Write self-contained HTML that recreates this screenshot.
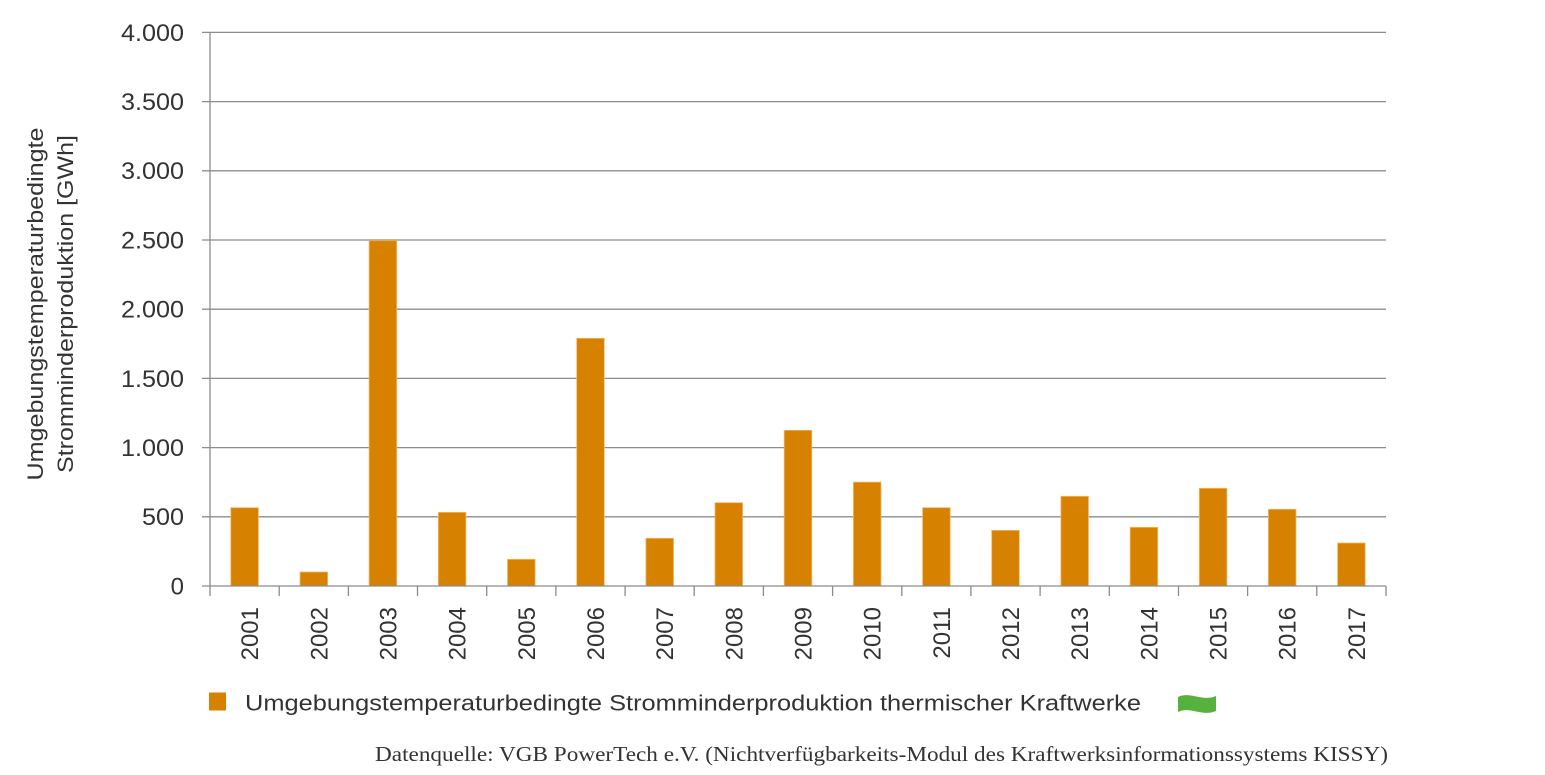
<!DOCTYPE html>
<html>
<head>
<meta charset="utf-8">
<style>
  html, body { margin: 0; padding: 0; background: #ffffff; }
  body { width: 1545px; height: 775px; overflow: hidden; }
  svg { display: block; }
  .ax { font-family: "Liberation Sans", sans-serif; fill: #333333; }
  .src { font-family: "Liberation Serif", serif; fill: #333333; }
</style>
</head>
<body>
<svg width="1545" height="775" viewBox="0 0 1545 775" xmlns="http://www.w3.org/2000/svg">
  <!-- gridlines -->
  <g stroke="#8c8c8c" stroke-width="1.3" fill="none">
    <line x1="202" y1="32.4" x2="1386" y2="32.4"/>
    <line x1="202" y1="101.6" x2="1386" y2="101.6"/>
    <line x1="202" y1="170.8" x2="1386" y2="170.8"/>
    <line x1="202" y1="240" x2="1386" y2="240"/>
    <line x1="202" y1="309.2" x2="1386" y2="309.2"/>
    <line x1="202" y1="378.4" x2="1386" y2="378.4"/>
    <line x1="202" y1="447.6" x2="1386" y2="447.6"/>
    <line x1="202" y1="516.8" x2="1386" y2="516.8"/>
  </g>

  <!-- bars -->
  <g fill="#d68100" stroke="#f2b86a" stroke-width="0.8">
    <rect x="230.8" y="507.7" width="27.6" height="78.3"/>
    <rect x="300.0" y="572.0" width="27.6" height="14.0"/>
    <rect x="369.1" y="240.7" width="27.6" height="345.3"/>
    <rect x="438.3" y="512.4" width="27.6" height="73.6"/>
    <rect x="507.5" y="559.3" width="27.6" height="26.7"/>
    <rect x="576.7" y="338.3" width="27.6" height="247.7"/>
    <rect x="645.9" y="538.3" width="27.6" height="47.7"/>
    <rect x="715.0" y="502.7" width="27.6" height="83.3"/>
    <rect x="784.2" y="430.3" width="27.6" height="155.7"/>
    <rect x="853.4" y="482.1" width="27.6" height="103.9"/>
    <rect x="922.6" y="507.7" width="27.6" height="78.3"/>
    <rect x="991.7" y="530.4" width="27.6" height="55.6"/>
    <rect x="1060.9" y="496.3" width="27.6" height="89.7"/>
    <rect x="1130.1" y="527.3" width="27.6" height="58.7"/>
    <rect x="1199.3" y="488.3" width="27.6" height="97.7"/>
    <rect x="1268.4" y="509.3" width="27.6" height="76.7"/>
    <rect x="1337.6" y="543.0" width="27.6" height="43.0"/>
  </g>

  <!-- axes -->
  <g stroke="#8c8c8c" stroke-width="1.3" fill="none">
    <line x1="210" y1="32" x2="210" y2="596"/>
    <line x1="202" y1="586" x2="1386" y2="586"/>
    <line x1="279.2" y1="586" x2="279.2" y2="596"/>
    <line x1="348.4" y1="586" x2="348.4" y2="596"/>
    <line x1="417.5" y1="586" x2="417.5" y2="596"/>
    <line x1="486.7" y1="586" x2="486.7" y2="596"/>
    <line x1="555.9" y1="586" x2="555.9" y2="596"/>
    <line x1="625.1" y1="586" x2="625.1" y2="596"/>
    <line x1="694.2" y1="586" x2="694.2" y2="596"/>
    <line x1="763.4" y1="586" x2="763.4" y2="596"/>
    <line x1="832.6" y1="586" x2="832.6" y2="596"/>
    <line x1="901.8" y1="586" x2="901.8" y2="596"/>
    <line x1="970.9" y1="586" x2="970.9" y2="596"/>
    <line x1="1040.1" y1="586" x2="1040.1" y2="596"/>
    <line x1="1109.3" y1="586" x2="1109.3" y2="596"/>
    <line x1="1178.5" y1="586" x2="1178.5" y2="596"/>
    <line x1="1247.6" y1="586" x2="1247.6" y2="596"/>
    <line x1="1316.8" y1="586" x2="1316.8" y2="596"/>
    <line x1="1386" y1="586" x2="1386" y2="596"/>
  </g>

  <!-- y tick labels -->
  <g class="ax" font-size="24" text-anchor="end">
    <text x="184" y="40.8" textLength="63" lengthAdjust="spacingAndGlyphs">4.000</text>
    <text x="184" y="110" textLength="63" lengthAdjust="spacingAndGlyphs">3.500</text>
    <text x="184" y="179.2" textLength="63" lengthAdjust="spacingAndGlyphs">3.000</text>
    <text x="184" y="248.4" textLength="63" lengthAdjust="spacingAndGlyphs">2.500</text>
    <text x="184" y="317.6" textLength="63" lengthAdjust="spacingAndGlyphs">2.000</text>
    <text x="184" y="386.8" textLength="63" lengthAdjust="spacingAndGlyphs">1.500</text>
    <text x="184" y="456" textLength="63" lengthAdjust="spacingAndGlyphs">1.000</text>
    <text x="184" y="525.2" textLength="42" lengthAdjust="spacingAndGlyphs">500</text>
    <text x="184" y="594.4">0</text>
  </g>

  <!-- y axis title -->
  <g class="ax" font-size="22" text-anchor="middle">
    <text transform="translate(43,304) rotate(-90)" textLength="353" lengthAdjust="spacingAndGlyphs">Umgebungstemperaturbedingte</text>
    <text transform="translate(73,304) rotate(-90)" textLength="338" lengthAdjust="spacingAndGlyphs">Stromminderproduktion [GWh]</text>
  </g>

  <!-- x tick labels -->
  <g class="ax" font-size="24" text-anchor="end">
    <text transform="translate(258.1,607) rotate(-90)">2001</text>
    <text transform="translate(327.3,607) rotate(-90)">2002</text>
    <text transform="translate(396.4,607) rotate(-90)">2003</text>
    <text transform="translate(465.6,607) rotate(-90)">2004</text>
    <text transform="translate(534.8,607) rotate(-90)">2005</text>
    <text transform="translate(604.0,607) rotate(-90)">2006</text>
    <text transform="translate(673.1,607) rotate(-90)">2007</text>
    <text transform="translate(742.3,607) rotate(-90)">2008</text>
    <text transform="translate(811.5,607) rotate(-90)">2009</text>
    <text transform="translate(880.7,607) rotate(-90)">2010</text>
    <text transform="translate(949.9,607) rotate(-90)">2011</text>
    <text transform="translate(1019.0,607) rotate(-90)">2012</text>
    <text transform="translate(1088.2,607) rotate(-90)">2013</text>
    <text transform="translate(1157.4,607) rotate(-90)">2014</text>
    <text transform="translate(1226.6,607) rotate(-90)">2015</text>
    <text transform="translate(1295.7,607) rotate(-90)">2016</text>
    <text transform="translate(1364.9,607) rotate(-90)">2017</text>
  </g>

  <!-- legend -->
  <rect x="209" y="692.5" width="17" height="18" fill="#d68100"/>
  <text class="ax" x="245" y="710.5" font-size="22" textLength="896" lengthAdjust="spacingAndGlyphs">Umgebungstemperaturbedingte Stromminderproduktion thermischer Kraftwerke</text>
  <path d="M1178,697 C1190,691 1202,702 1216,696 L1216,711 C1202,717 1190,706 1178,712 Z" fill="#56b13d"/>

  <!-- source -->
  <text class="src" x="375" y="761" font-size="21" textLength="1013" lengthAdjust="spacingAndGlyphs">Datenquelle: VGB PowerTech e.V. (Nichtverfügbarkeits-Modul des Kraftwerksinformationssystems KISSY)</text>
</svg>
</body>
</html>
